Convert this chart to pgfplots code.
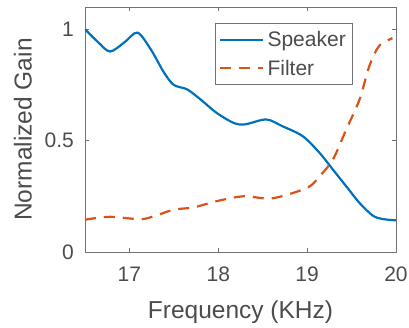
\documentclass[border=0pt]{standalone}
\usepackage{pgfplots}
\pgfplotsset{compat=1.18}
\usepackage{fontspec}
\setmainfont{Liberation Sans}
\definecolor{mblue}{rgb}{0,0.447,0.741}
\definecolor{morange}{rgb}{0.85,0.325,0.098}
\definecolor{txt}{rgb}{0.3,0.3,0.3}
\definecolor{axc}{rgb}{0.45,0.45,0.45}
\begin{document}
\begin{tikzpicture}
\begin{axis}[
  scale only axis,
  width=311pt, height=245pt,
  xmin=16.5, xmax=20, ymin=0, ymax=1.1,
  xtick={17,18,19,20}, ytick={0,0.5,1},
  yticklabels={0,0.5,1},
  /pgf/number format/assume math mode=true,
  tick align=inside, major tick length=4pt,
  axis line style={axc, line width=0.7pt},
  every tick/.style={axc, line width=0.7pt},
  tick label style={font=\fontsize{21pt}{24pt}\selectfont, text=txt},
  xticklabel style={inner sep=0pt, anchor=north, yshift=-15pt},
  yticklabel style={inner sep=0pt, anchor=east, xshift=-11pt},
  xlabel={Frequency (KHz)},
  ylabel={Normalized Gain},
  label style={font=\fontsize{24.5pt}{28pt}\selectfont, text=txt},
  xlabel style={at={(axis description cs:0.5,-0.245)}, anchor=center},
  ylabel style={at={(axis description cs:-0.2,0.5)}, anchor=center},
  legend style={at={(rel axis cs:0.418,0.935)}, anchor=north west,
    draw=axc, line width=0.7pt, font=\fontsize{21pt}{24pt}\selectfont, text=txt,
    inner xsep=4pt, inner ysep=8pt, row sep=12pt,
    nodes={inner xsep=3pt, inner ysep=0pt}},
  legend cell align=left,
  legend image code/.code={\draw[#1] (0pt,0pt) -- (43pt,0pt);},
]
\addplot[mblue, line width=2.2pt, smooth, tension=0.5] coordinates {
(16.5,1.0) (16.64,0.945) (16.78,0.90) (16.94,0.94) (17.09,0.985) (17.24,0.91)
(17.39,0.805) (17.5,0.75) (17.65,0.73) (17.8,0.685) (17.98,0.625)
(18.17,0.58) (18.3,0.573) (18.54,0.595) (18.72,0.565) (18.95,0.52)
(19.14,0.445) (19.29,0.37) (19.44,0.295) (19.59,0.22) (19.74,0.163)
(19.85,0.148) (20,0.142)};
\addlegendentry{Speaker}
\addplot[morange, line width=2.2pt, dash pattern=on 11pt off 8pt, smooth, tension=0.5] coordinates {
(16.5,0.145) (16.78,0.158) (17.12,0.147) (17.27,0.16) (17.5,0.19)
(17.72,0.2) (17.98,0.228) (18.28,0.25) (18.58,0.24) (18.84,0.265)
(19.03,0.295) (19.14,0.34) (19.29,0.415) (19.44,0.55) (19.59,0.685)
(19.7,0.835) (19.81,0.925) (19.96,0.96)};
\addlegendentry{Filter}
\coordinate (bl) at (rel axis cs:0,0);
\end{axis}
\pgfresetboundingbox
\path (bl) ++(-85pt,-76pt) rectangle ++(409pt,328pt);
\end{tikzpicture}
\end{document}
